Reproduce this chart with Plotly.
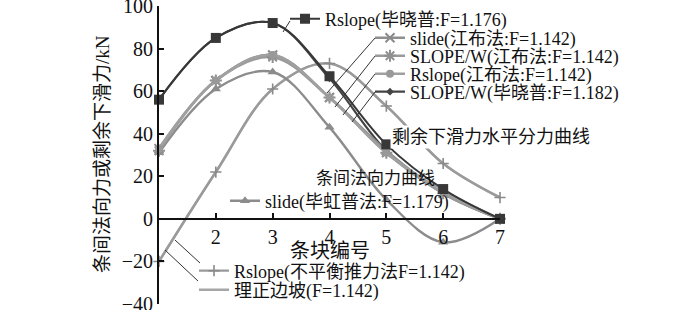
import plotly.graph_objects as go

# ---------------- data ----------------
blocks = [1, 2, 3, 4, 5, 6, 7]
rslope_bishop = [56, 85, 92, 67, 35, 14, 0]
slopew_bishop = [56, 85, 92, 66, 32, 12, 0]
slide_janbu = [33, 65, 77, 57, 32, 12, 0]
slopew_janbu = [32, 65, 76, 57, 31, 12, 0]
rslope_janbu = [33, 65, 77, 57, 31, 13, 0]
slide_bishop = [31, 61, 69, 43, 9, -11, 0]
rslope_unbal = [-20, 22, 61, 73, 53, 26, 10]
lizheng = [-20, 22, 61, 73, 53, 26, 10]
x_ticks = [2, 3, 4, 5, 6, 7]
y_ticks = [-40, -20, 0, 20, 40, 60, 80, 100]

# ---------------- layout helpers (pixels -> paper) ----------------
W, H = 700, 310
L, R, T, B = 159, 500, 6, 304


def px(x):
    return (x - L) / (R - L)


def py(y):
    return (B - y) / (B - T)


LAT = "Liberation Serif, Noto Sans CJK SC"
FS = 18

series = [
    # name, values, color, width, marker, legend id, legend left px, legend y px
    ("理正边坡(F=1.142)", lizheng, "#a6a6a6", 2.6, None, "legend8", 194, 290),
    ("Rslope(不平衡推力法F=1.142)", rslope_unbal, "#9a9a9a", 2.2,
     dict(symbol="cross-thin", size=8, line=dict(width=1.6, color="#8a8a8a")), "legend7", 194, 271),
    ("slide(毕虹普法:F=1.179)", slide_bishop, "#8c8c8c", 2.4,
     dict(symbol="triangle-up", size=9, color="#8c8c8c"), "legend6", 225, 201),
    ("SLOPE/W(毕晓普:F=1.182)", slopew_bishop, "#444444", 2.2,
     dict(symbol="diamond", size=6, color="#444444"), "legend5", 370, 92),
    ("slide(江布法:F=1.142)", slide_janbu, "#8f8f8f", 2.6,
     dict(symbol="x-thin", size=9, line=dict(width=2, color="#8a8a8a")), "legend2", 370, 38),
    ("SLOPE/W(江布法:F=1.142)", slopew_janbu, "#9a9a9a", 2.6,
     dict(symbol="asterisk", size=10, line=dict(width=2, color="#909090")), "legend3", 370, 56),
    ("Rslope(江布法:F=1.142)", rslope_janbu, "#a0a0a0", 2.6,
     dict(symbol="circle", size=8, color="#999999"), "legend4", 370, 74),
    ("Rslope(毕晓普:F=1.176)", rslope_bishop, "#383838", 2.0,
     dict(symbol="square", size=10, color="#383838"), "legend", 285, 19),
]

fig = go.Figure()
legends = {}
for name, vals, color, width, marker, leg, lx, ly in series:
    kw = dict(mode="lines+markers", marker=marker) if marker else dict(mode="lines")
    fig.add_trace(go.Scatter(
        x=blocks, y=vals, name=name, legend=leg,
        line=dict(color=color, width=width, shape="spline", smoothing=1),
        cliponaxis=False, **kw))
    legends[leg] = dict(
        x=px(lx), y=py(ly), xanchor="left", yanchor="middle",
        bgcolor="rgba(0,0,0,0)", borderwidth=0, itemwidth=30,
        font=dict(family=LAT, size=FS, color="#111"),
        itemclick=False, itemdoubleclick=False)

# leader lines (pixel coords of start/end)
leaders = [
    ((290, 21), (283, 32)),
    ((375, 38), (327, 93)),
    ((375, 56), (335, 107)),
    ((375, 74), (343, 115)),
    ((375, 92), (352, 122)),
    ((200, 263), (175, 240)),
    ((198, 281), (165, 250)),
]
shapes = []
for (x0, y0), (x1, y1) in leaders:
    shapes.append(dict(type="line", xref="paper", yref="paper",
                       x0=px(x0), y0=py(y0), x1=px(x1), y1=py(y1),
                       line=dict(color="#333333", width=1)))

annotations = [
    dict(text="条间法向力或剩余下滑力/kN", x=px(103), y=py(154), textangle=-90,
         font=dict(family=LAT, size=19, color="#111")),
    dict(text="条块编号", x=px(330), y=py(251),
         font=dict(family=LAT, size=20, color="#111")),
    dict(text="剩余下滑力水平分力曲线", x=px(491), y=py(137), bgcolor="white",
         font=dict(family=LAT, size=18, color="#111")),
    dict(text="条间法向力曲线", x=px(375), y=py(178),
         font=dict(family=LAT, size=17, color="#111")),
]
for a in annotations:
    a.update(xref="paper", yref="paper", showarrow=False,
             xanchor="center", yanchor="middle")

fig.update_layout(
    width=W, height=H,
    margin=dict(l=L, r=W - R, t=T, b=H - B, pad=0, autoexpand=False),
    paper_bgcolor="white", plot_bgcolor="white",
    showlegend=True,
    shapes=shapes, annotations=annotations,
    font=dict(family=LAT, size=FS, color="#111"),
    xaxis=dict(range=[1, 7], tickvals=x_ticks, ticks="inside", ticklen=5,
               tickwidth=1.5, tickcolor="#111",
               showline=True, linecolor="#111", linewidth=1.8,
               showgrid=False, zeroline=False, anchor="free",
               position=(0 - y_ticks[0]) / (y_ticks[-1] - y_ticks[0]),
               ticklabeloverflow="allow",
               tickfont=dict(family=LAT, size=20, color="#111"), automargin=False),
    yaxis=dict(range=[y_ticks[0], y_ticks[-1]], tickvals=y_ticks, ticks="inside",
               ticklen=5, tickwidth=1.5, tickcolor="#111",
               showline=True, linecolor="#111", linewidth=1.8,
               showgrid=False, zeroline=False, ticklabeloverflow="allow",
               tickfont=dict(family=LAT, size=20, color="#111"), automargin=False),
    **legends,
)

fig.write_html("out.html")
